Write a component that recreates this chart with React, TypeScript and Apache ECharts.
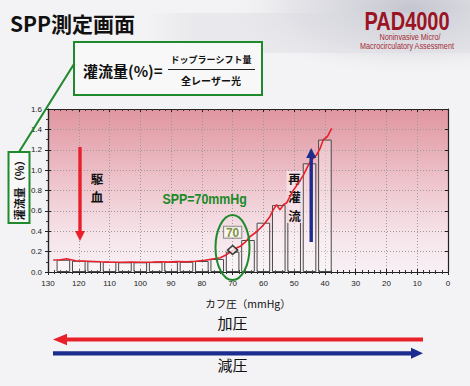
import React, { useEffect, useRef } from "react";
import * as echarts from "echarts";

// ---- data ----
const barPressure = [125, 120, 115, 110, 105, 100, 95, 90, 85, 80, 75, 70, 65, 60, 55, 50, 45, 40];
const barFlow = [0.12, 0.11, 0.105, 0.1, 0.095, 0.095, 0.097, 0.1, 0.1, 0.108, 0.128, 0.2, 0.314, 0.484, 0.657, 0.8, 1.067, 1.3];

const linePressure = [128.3, 126, 124, 121, 117, 113, 110, 106, 103, 99, 96, 93, 91, 88, 85, 82, 79, 77, 74, 72, 70, 68.5, 67.6, 66, 64.4, 62.2, 60, 57.9, 56.8, 55.7, 54.6, 53.5, 52.4, 51.4, 50.3, 48.7, 47, 45.4, 44.3, 42.7, 41.6, 40.5, 39.2, 37.8];
const lineFlow = [0.118, 0.12, 0.13, 0.11, 0.105, 0.1, 0.097, 0.095, 0.097, 0.095, 0.097, 0.1, 0.097, 0.102, 0.1, 0.105, 0.115, 0.125, 0.14, 0.17, 0.21, 0.24, 0.25, 0.29, 0.346, 0.395, 0.46, 0.543, 0.61, 0.66, 0.61, 0.66, 0.68, 0.74, 0.8, 0.87, 0.95, 1.05, 1.1, 1.15, 1.21, 1.3, 1.33, 1.41];

const sppPressure = [70];
const sppFlow = [0.216];
const sppLabel = "70";

const xRange = [0, 130];
const xStep = 10;
const yRange = [0, 1.6];
const yStep = 0.2;

const CJK = '"Noto Sans CJK JP", "Noto Sans", sans-serif';
const LAT = '"Liberation Sans", Arial, sans-serif';

const GREEN = "#1f8a2c";
const RED = "#e8202a";
const BLUE = "#1b2b8e";

export default function App() {
  const ref = useRef<HTMLDivElement>(null);

  useEffect(() => {
    if (!ref.current) return;
    const chart = echarts.init(ref.current, null, { renderer: "svg" });

    const barData = barPressure.map((p, i) => [p, barFlow[i]]);
    const lineData = linePressure.map((p, i) => [p, lineFlow[i]]);
    const sppData = sppPressure.map((p, i) => [p, sppFlow[i]]);

    const baseX = {
      type: "value" as const,
      min: xRange[0],
      max: xRange[1],
      interval: xStep,
      inverse: true,
      axisLine: { show: true, onZero: false, lineStyle: { color: "#222", width: 1.2 } },
      splitLine: { show: false },
      axisLabel: { show: false },
      minorTick: { show: true, splitNumber: 5, length: 2, lineStyle: { color: "#333" } },
    };
    const baseY = {
      type: "value" as const,
      min: yRange[0],
      max: yRange[1],
      interval: yStep,
      axisLine: { show: true, onZero: false, lineStyle: { color: "#222", width: 1.2 } },
      splitLine: { show: false },
      axisLabel: { show: false },
    };

    const arrowDown = (x: number, y1: number, y2: number, color: string, sw: number, hw: number, hh: number) => [
      { type: "rect", z: 100, shape: { x: x - sw / 2, y: y1, width: sw, height: y2 - y1 - hh + 1 }, style: { fill: color } },
      { type: "polygon", z: 100, shape: { points: [[x - hw / 2, y2 - hh], [x + hw / 2, y2 - hh], [x, y2]] }, style: { fill: color } },
    ];
    const arrowUp = (x: number, y1: number, y2: number, color: string, sw: number, hw: number, hh: number) => [
      { type: "rect", z: 100, shape: { x: x - sw / 2, y: y1 + hh - 1, width: sw, height: y2 - y1 - hh + 1 }, style: { fill: color } },
      { type: "polygon", z: 100, shape: { points: [[x - hw / 2, y1 + hh], [x + hw / 2, y1 + hh], [x, y1]] }, style: { fill: color } },
    ];
    const arrowLeft = (x1: number, x2: number, y: number, color: string, sw: number, hw: number, hl: number) => [
      { type: "rect", z: 100, shape: { x: x1 + hl - 1, y: y - sw / 2, width: x2 - x1 - hl + 1, height: sw }, style: { fill: color } },
      { type: "polygon", z: 100, shape: { points: [[x1 + hl, y - hw / 2], [x1 + hl, y + hw / 2], [x1, y]] }, style: { fill: color } },
    ];
    const arrowRight = (x1: number, x2: number, y: number, color: string, sw: number, hw: number, hl: number) => [
      { type: "rect", z: 100, shape: { x: x1, y: y - sw / 2, width: x2 - x1 - hl + 1, height: sw }, style: { fill: color } },
      { type: "polygon", z: 100, shape: { points: [[x2 - hl, y - hw / 2], [x2 - hl, y + hw / 2], [x2, y]] }, style: { fill: color } },
    ];
    const vChar = (ch: string, x: number, y: number, z: number) => ({
      type: "text", z, x, y,
      style: { text: ch, fontFamily: CJK, fontSize: 12.5, lineHeight: 12.5, fontWeight: "bold", fill: "#111", align: "center", verticalAlign: "middle" },
    });

    const option: any = {
      animation: false,
      backgroundColor: "#f3f2f4",
      grid: {
        left: 48,
        right: 22,
        top: 109,
        bottom: 114,
        show: true,
        borderWidth: 0,
        outerBoundsMode: "none",
        backgroundColor: new echarts.graphic.LinearGradient(0, 0, 0, 1, [
          { offset: 0, color: "#e0959f" },
          { offset: 0.45, color: "#eec4cc" },
          { offset: 0.8, color: "#f6e6ec" },
          { offset: 1, color: "#f7f0f4" },
        ]),
      },
      xAxis: [
        {
          ...baseX,
          position: "bottom",
          axisTick: { show: true, length: 3, lineStyle: { color: "#222" } },
          axisLabel: { show: true, fontSize: 8, color: "#222", margin: 7, fontFamily: LAT },
          splitLine: { show: true, lineStyle: { type: [1, 2], color: "#9a9a9a" } },
          name: "カフ圧（mmHg）",
          nameLocation: "middle",
          nameGap: 26,
          nameTextStyle: { fontSize: 10.5, color: "#111", fontFamily: CJK },
        },
        {
          ...baseX,
          position: "bottom",
          axisTick: { show: true, inside: true, length: 3, lineStyle: { color: "#222" } },
        },
        {
          ...baseX,
          position: "top",
          axisTick: { show: true, inside: true, length: 3, lineStyle: { color: "#222" } },
        },
      ],
      yAxis: [
        {
          ...baseY,
          position: "left",
          axisTick: { show: true, length: 3, lineStyle: { color: "#222" } },
          minorTick: { show: true, splitNumber: 2, length: 2, lineStyle: { color: "#333" } },
          axisLabel: { show: true, fontSize: 8, color: "#222", margin: 6, fontFamily: LAT, formatter: (v: number) => v.toFixed(1) },
          splitLine: { show: true, lineStyle: { type: [1, 2], color: "#9a9a9a" } },
        },
        {
          ...baseY,
          position: "left",
          axisTick: { show: true, inside: true, length: 3, lineStyle: { color: "#222" } },
        },
        {
          ...baseY,
          position: "right",
          axisTick: { show: true, inside: true, length: 3, lineStyle: { color: "#222" } },
        },
      ],
      series: [
        {
          type: "bar",
          xAxisIndex: 0,
          yAxisIndex: 0,
          data: barData,
          barWidth: 13.6,
          z: 2,
          itemStyle: { color: "rgba(255,255,255,0.3)", borderColor: "#4a4a4a", borderWidth: 1 },
        },
        {
          type: "line",
          xAxisIndex: 0,
          yAxisIndex: 0,
          data: lineData,
          showSymbol: false,
          symbol: "none",
          z: 4,
          lineStyle: { color: RED, width: 1.6 },
        },
        {
          type: "scatter",
          xAxisIndex: 0,
          yAxisIndex: 0,
          data: sppData,
          symbol: "diamond",
          symbolSize: [10, 9],
          z: 5,
          itemStyle: { color: "#f4f0f2", borderColor: "#111", borderWidth: 1.6 },
          label: {
            show: true,
            position: "top",
            distance: 7,
            formatter: sppLabel,
            fontFamily: LAT,
            fontSize: 12,
            fontWeight: "bold",
            color: "#5f7a10",
            backgroundColor: "#fbfbf6",
            borderColor: "#777",
            borderWidth: 1,
            padding: [0, 2, -1, 2],
          },
        },
      ],
      graphic: [
        // top-right decoration
        {
          type: "ellipse",
          z: 0,
          shape: { cx: 410, cy: 8, rx: 190, ry: 70 },
          style: {
            fill: new echarts.graphic.RadialGradient(0.5, 0.5, 0.5, [
              { offset: 0, color: "rgba(150,152,170,0.5)" },
              { offset: 0.6, color: "rgba(190,192,205,0.3)" },
              { offset: 1, color: "rgba(243,242,244,0)" },
            ]),
          },
        },
        {
          type: "rect", z: 0, shape: { x: 145, y: 13, width: 325, height: 40 },
          style: {
            fill: new echarts.graphic.LinearGradient(0, 0, 1, 0, [
              { offset: 0, color: "rgba(215,215,222,0)" },
              { offset: 0.15, color: "rgba(215,215,222,0.35)" },
              { offset: 1, color: "rgba(215,215,222,0.35)" },
            ]),
          },
        },
        // title
        {
          type: "text", z: 100, x: 10, y: 22.5,
          style: { text: "SPP測定画面", fontFamily: CJK, fontSize: 21, fontWeight: "bold", fill: "#111", align: "left", verticalAlign: "middle" },
        },
        {
          type: "text", z: 100, x: 407, y: 21.5, scaleX: 0.8,
          style: { text: "PAD4000", fontFamily: LAT, fontSize: 25, fontWeight: "bold", fill: "#9a1424", align: "center", verticalAlign: "middle" },
        },
        {
          type: "text", z: 100, x: 410, y: 37, scaleX: 0.85,
          style: { text: "Noninvasive Micro/", fontFamily: LAT, fontSize: 8.5, fill: "#a32a34", align: "center", verticalAlign: "middle" },
        },
        {
          type: "text", z: 100, x: 407, y: 46.5, scaleX: 0.85,
          style: { text: "Macrocirculatory Assessment", fontFamily: LAT, fontSize: 8.5, fill: "#a32a34", align: "center", verticalAlign: "middle" },
        },
        // formula box
        { type: "rect", z: 100, shape: { x: 74, y: 42, width: 188, height: 53 }, style: { fill: "#f8f8f8", stroke: GREEN, lineWidth: 2 } },
        {
          type: "text", z: 101, x: 83, y: 70,
          style: { text: "灌流量(%)=", fontFamily: CJK, fontSize: 15, fontWeight: "bold", fill: "#111", align: "left", verticalAlign: "middle" },
        },
        {
          type: "text", z: 101, x: 211, y: 59,
          style: { text: "ドップラーシフト量", fontFamily: CJK, fontSize: 9, fontWeight: "bold", fill: "#111", align: "center", verticalAlign: "middle" },
        },
        { type: "line", z: 101, shape: { x1: 168, y1: 69.5, x2: 255, y2: 69.5 }, style: { stroke: "#222", lineWidth: 1.2 } },
        {
          type: "text", z: 101, x: 211, y: 80,
          style: { text: "全レーザー光", fontFamily: CJK, fontSize: 10, fontWeight: "bold", fill: "#111", align: "center", verticalAlign: "middle" },
        },
        // connector line
        { type: "line", z: 100, shape: { x1: 74, y1: 64, x2: 19, y2: 152 }, style: { stroke: GREEN, lineWidth: 2 } },
        // y-axis label box
        { type: "rect", z: 100, shape: { x: 8.5, y: 152, width: 21, height: 71 }, style: { fill: "#f8f8f8", stroke: GREEN, lineWidth: 2 } },
        {
          type: "text", z: 101, x: 19, y: 187.5, rotation: Math.PI / 2,
          style: { text: "灌流量（%）", fontFamily: CJK, fontSize: 11, fontWeight: "bold", fill: "#111", align: "center", verticalAlign: "middle" },
        },
        // 駆血
        ...arrowDown(80, 147, 241, RED, 3.4, 10, 10),
        vChar("駆", 97, 178.5, 100),
        vChar("血", 97, 196.8, 100),
        // SPP annotation
        {
          type: "text", z: 100, x: 162.5, y: 198.5, scaleX: 0.8,
          style: { text: "SPP=70mmHg", fontFamily: LAT, fontSize: 15.5, fontWeight: "bold", fill: "#1c8a28", align: "left", verticalAlign: "middle" },
        },
        { type: "ellipse", z: 100, shape: { cx: 232.5, cy: 247.5, rx: 17, ry: 32.5 }, style: { fill: "none", stroke: GREEN, lineWidth: 2 } },
        // 再灌流
        { type: "rect", z: 3, shape: { x: 286.5, y: 171, width: 16, height: 52 }, style: { fill: "rgba(246,226,233,0.92)" } },
        vChar("再", 294.5, 178.5, 3.5),
        vChar("灌", 294.5, 196.8, 3.5),
        vChar("流", 294.5, 215.1, 3.5),
        ...arrowUp(311.2, 148, 242, BLUE, 3.4, 10, 10),
        // bottom arrows
        {
          type: "text", z: 100, x: 232.5, y: 322.5,
          style: { text: "加圧", fontFamily: CJK, fontSize: 15, fill: "#111", align: "center", verticalAlign: "middle" },
        },
        ...arrowLeft(53, 423, 339.5, RED, 4.2, 11.5, 14),
        ...arrowRight(53, 423, 353.3, BLUE, 4.2, 11, 12),
        {
          type: "text", z: 100, x: 232.5, y: 364.5,
          style: { text: "減圧", fontFamily: CJK, fontSize: 15, fill: "#111", align: "center", verticalAlign: "middle" },
        },
      ],
    };

    chart.setOption(option);
    return () => chart.dispose();
  }, []);

  return <div ref={ref} style={{ position: "absolute", left: 0, top: 0, width: 470, height: 386 }} />;
}
